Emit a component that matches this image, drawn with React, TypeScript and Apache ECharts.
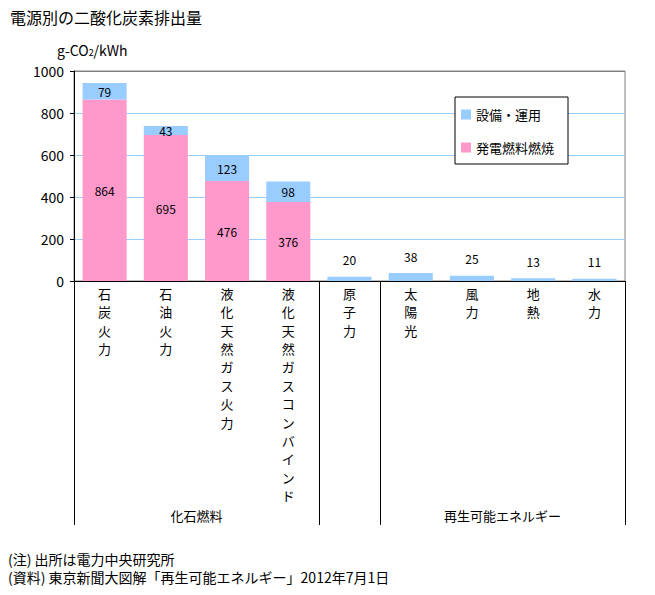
import React, { useEffect, useRef } from "react";
import * as echarts from "echarts";

const FONT = "'Noto Sans CJK JP', 'Noto Sans', sans-serif";

const titleText = "電源別の二酸化炭素排出量";
const categories = [
  "石炭火力",
  "石油火力",
  "液化天然ガス火力",
  "液化天然ガスコンバインド",
  "原子力",
  "太陽光",
  "風力",
  "地熱",
  "水力",
];
const fuelValues: (number | null)[] = [864, 695, 476, 376, null, null, null, null, null];
const facilityValues = [79, 43, 123, 98, 20, 38, 25, 13, 11];
const seriesNames = ["設備・運用", "発電燃料燃焼"];
const groupLabels = ["化石燃料", "再生可能エネルギー"];
const groupRanges = [
  [0, 3],
  [5, 8],
];
const boundaryTicks = [0, 4, 5];
const yMin = 0;
const yMax = 1000;
const yInterval = 200;
const unitLabel = "g-CO{sub|2}/kWh";
const footnotes = [
  "(注) 出所は電力中央研究所",
  "(資料) 東京新聞大図解「再生可能エネルギー」2012年7月1日",
];

export default function App() {
  const ref = useRef<HTMLDivElement>(null);
  useEffect(() => {
    if (!ref.current) return;
    const chart = echarts.init(ref.current, undefined, { renderer: "svg" });
    const splitColors: string[] = [];
    for (let v = yMin; v <= yMax; v += yInterval) {
      splitColors.push(v === yMax ? "#808080" : "#99CCFF");
    }
    const baseGraphics: any[] = [
      {
        type: "text",
        left: 57,
        top: 43,
        style: {
          text: unitLabel,
          fontSize: 14,
          fill: "#000",
          fontFamily: FONT,
          rich: {
            sub: { fontSize: 9, verticalAlign: "bottom", padding: [6, 0, 0, 0], fontFamily: FONT },
          },
        },
      },
      ...footnotes.map((t, i) => ({
        type: "text",
        left: 8,
        top: 552 + i * 18,
        style: { text: t, fontSize: 14, fill: "#000", fontFamily: FONT },
      })),
    ];
    chart.setOption({
      animation: false,
      textStyle: { fontFamily: FONT },
      title: {
        text: titleText,
        left: 10,
        top: 9,
        padding: 0,
        textStyle: { fontSize: 16, fontWeight: "normal", color: "#000", fontFamily: FONT },
      },
      legend: {
        orient: "vertical",
        left: 455,
        top: 97,
        data: [seriesNames[0], seriesNames[1]],
        icon: "rect",
        itemWidth: 10,
        itemHeight: 10,
        itemGap: 20,
        backgroundColor: "#fff",
        borderColor: "#000",
        borderWidth: 1,
        borderRadius: 0,
        padding: [11, 14, 10, 6],
        textStyle: { fontSize: 13, color: "#000", fontFamily: FONT },
      },
      grid: {
        left: 74,
        top: 71,
        width: 551,
        height: 210,
        show: true,
        borderColor: "#808080",
        borderWidth: 1,
        backgroundColor: "transparent",
      },
      xAxis: {
        type: "category",
        data: categories,
        axisLine: { lineStyle: { color: "#000", width: 1 } },
        axisTick: {
          show: true,
          length: 244,
          interval: (i: number) => boundaryTicks.includes(i),
          lineStyle: { color: "#000", width: 1 },
        },
        axisLabel: {
          interval: 0,
          formatter: (v: string) => v.split("").join("\n"),
          lineHeight: 18.4,
          margin: 3,
          fontSize: 13,
          color: "#000",
          fontFamily: FONT,
        },
      },
      yAxis: {
        type: "value",
        min: yMin,
        max: yMax,
        interval: yInterval,
        axisLine: { show: true, lineStyle: { color: "#000", width: 1 } },
        axisTick: { show: true, length: 4, lineStyle: { color: "#000" } },
        axisLabel: {
          fontSize: 14,
          color: "#000",
          margin: 10,
          fontFamily: FONT,
          formatter: (v: number) => String(v),
        },
        splitLine: { show: true, lineStyle: { color: splitColors, width: 1 } },
      },
      graphic: baseGraphics,
      series: [
        {
          name: seriesNames[1],
          type: "bar",
          stack: "total",
          barCategoryGap: "28%",
          data: fuelValues,
          itemStyle: { color: "#FF99CC" },
          label: { show: true, position: "inside", color: "#000", fontSize: 12, fontFamily: FONT },
        },
        {
          name: seriesNames[0],
          type: "bar",
          stack: "total",
          barCategoryGap: "28%",
          data: facilityValues.map((v, i) =>
            fuelValues[i] == null ? { value: v, label: { position: "top", distance: 11 } } : v
          ),
          itemStyle: { color: "#99CCFF" },
          label: { show: true, position: "inside", color: "#000", fontSize: 12, fontFamily: FONT },
        },
      ],
    });
    const groupGraphics = groupLabels.map((name, gi) => {
      const [a, b] = groupRanges[gi];
      const xa = chart.convertToPixel({ xAxisIndex: 0 }, a) as number;
      const xb = chart.convertToPixel({ xAxisIndex: 0 }, b) as number;
      return {
        type: "text",
        x: (xa + xb) / 2,
        y: 515,
        style: {
          text: name,
          fontSize: 13,
          fill: "#000",
          align: "center",
          verticalAlign: "middle",
          fontFamily: FONT,
        },
      };
    });
    chart.setOption(
      { graphic: [...baseGraphics, ...groupGraphics] },
      { replaceMerge: ["graphic"] }
    );
    return () => chart.dispose();
  }, []);
  return (
    <div
      ref={ref}
      style={{ position: "absolute", left: 0, top: 0, width: 655, height: 595, background: "#fff" }}
    />
  );
}
